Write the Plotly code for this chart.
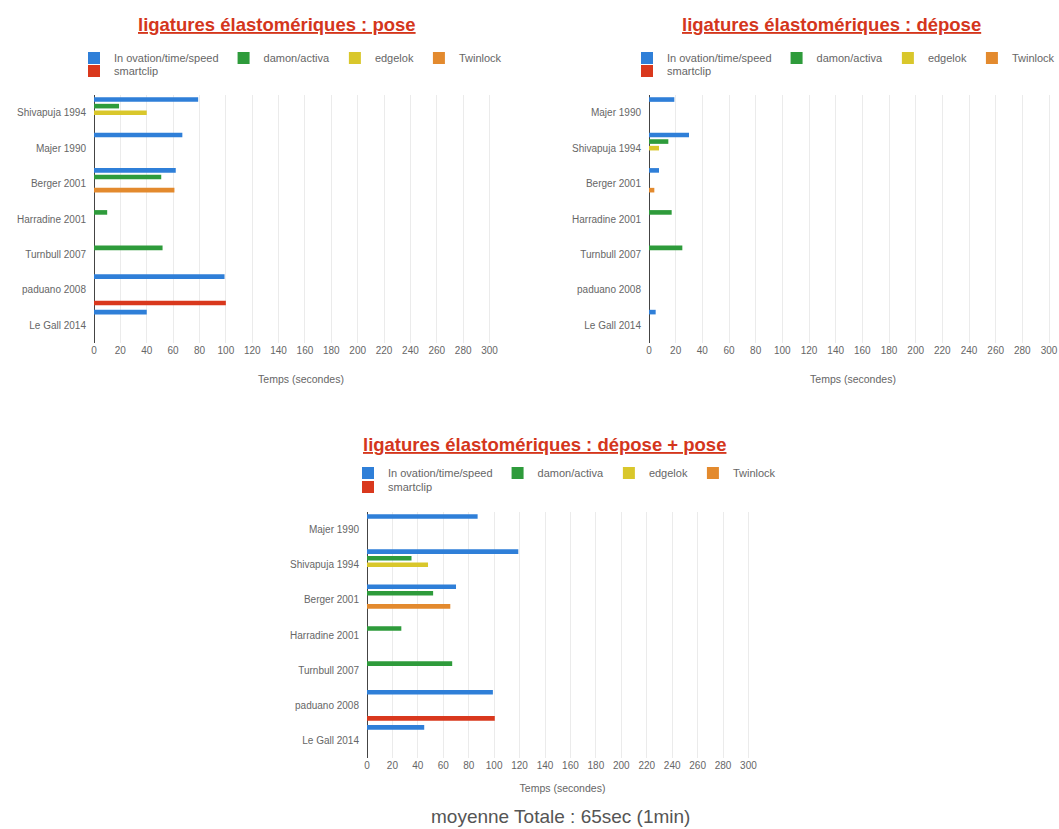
import plotly.graph_objects as go

W, H = 1059, 829

series_names = ["In ovation/time/speed", "damon/activa", "edgelok", "Twinlock", "smartclip"]
series_colors = ["#2f7fd8", "#2e9b3b", "#d9c72b", "#e38a2e", "#d9381d"]

# Chart 1 : pose
cats_pose = ["Shivapuja 1994", "Majer 1990", "Berger 2001", "Harradine 2001",
             "Turnbull 2007", "paduano 2008", "Le Gall 2014"]
pose_inov = [79, 67, 62, None, None, 99, 40]
pose_damon = [19, None, 51, 10, 52, None, None]
pose_edgelok = [40, None, None, None, None, None, None]
pose_twinlock = [None, None, 61, None, None, None, None]
pose_smartclip = [None, None, None, None, None, 100, None]

# Chart 2 : dépose
cats_depose = ["Majer 1990", "Shivapuja 1994", "Berger 2001", "Harradine 2001",
               "Turnbull 2007", "paduano 2008", "Le Gall 2014"]
depose_inov = [19, 30, 7.5, None, None, None, 5]
depose_damon = [None, 14.5, None, 17, 25, None, None]
depose_edgelok = [None, 7.5, None, None, None, None, None]
depose_twinlock = [None, None, 4, None, None, None, None]
depose_smartclip = [None, None, None, None, None, None, None]

# Chart 3 : dépose + pose
cats_total = ["Majer 1990", "Shivapuja 1994", "Berger 2001", "Harradine 2001",
              "Turnbull 2007", "paduano 2008", "Le Gall 2014"]
total_inov = [87, 119, 70, None, None, 99, 45]
total_damon = [None, 35, 52, 27, 67, None, None]
total_edgelok = [None, 48, None, None, None, None, None]
total_twinlock = [None, None, 65.5, None, None, None, None]
total_smartclip = [None, None, None, None, None, 100.5, None]

titles = ["ligatures élastomériques : pose",
          "ligatures élastomériques : dépose",
          "ligatures élastomériques : dépose + pose"]
x_ticks = list(range(0, 301, 20))
axis_title = "Temps (secondes)"
footer = "moyenne Totale : 65sec (1min)"

charts = [
    (cats_pose, [pose_inov, pose_damon, pose_edgelok, pose_twinlock, pose_smartclip]),
    (cats_depose, [depose_inov, depose_damon, depose_edgelok, depose_twinlock, depose_smartclip]),
    (cats_total, [total_inov, total_damon, total_edgelok, total_twinlock, total_smartclip]),
]

# layout geometry (pixels)
geo = [
    dict(x0=94, x1=508, y0=95, y1=343, xmax=314, tx=277, ty=25, lx=94, ly1=58, ly2=71, st=20),
    dict(x0=649, x1=1057, y0=95, y1=343, xmax=306, tx=831, ty=25, lx=647, ly1=58, ly2=71, st=20),
    dict(x0=367, x1=758, y0=512, y1=758, xmax=307.5, tx=544, ty=445, lx=368, ly1=473, ly2=487, st=14),
]

FONT = "Liberation Sans, Arial, sans-serif"
fig = go.Figure()
layout = dict(
    width=W, height=H,
    margin=dict(l=0, r=0, t=0, b=0, autoexpand=False),
    paper_bgcolor="white", plot_bgcolor="white",
    barmode="group", bargap=0.07, bargroupgap=0.3,
    font=dict(family=FONT, color="#555"),
    annotations=[],
)

for i, ((cats, vals), g) in enumerate(zip(charts, geo)):
    n = i + 1
    xa = "x" if n == 1 else f"x{n}"
    ya = "y" if n == 1 else f"y{n}"
    leg_a = "legend" if n == 1 else f"legend{2 * n - 1}"
    leg_b = f"legend{2 * n}"
    for k, (name, color, v) in enumerate(zip(series_names, series_colors, vals)):
        fig.add_trace(go.Bar(
            y=cats, x=v, name=name, orientation="h",
            marker=dict(color=color, line=dict(width=0)),
            xaxis=xa, yaxis=ya,
            legend=leg_a if k < 4 else leg_b,
        ))
    xkey = "xaxis" if n == 1 else f"xaxis{n}"
    ykey = "yaxis" if n == 1 else f"yaxis{n}"
    layout[xkey] = dict(
        domain=[g["x0"] / W, g["x1"] / W], anchor=ya,
        range=[0, g["xmax"]], tickvals=x_ticks,
        showgrid=True, gridcolor="#ebebeb", gridwidth=1,
        zeroline=True, zerolinecolor="#444", zerolinewidth=1,
        showline=False, ticks="",
        tickfont=dict(size=10, color="#666", family=FONT),
        title=dict(text=axis_title, font=dict(size=10.5, color="#666", family=FONT), standoff=g["st"]),
        fixedrange=True,
    )
    layout[ykey] = dict(
        domain=[1 - g["y1"] / H, 1 - g["y0"] / H], anchor=xa,
        type="category", autorange="reversed",
        showgrid=False, zeroline=False, showline=False, ticks="",
        ticklabelstandoff=7,
        tickfont=dict(size=10, color="#666", family=FONT),
        fixedrange=True,
    )
    leg_common = dict(orientation="h", xanchor="left", yanchor="middle",
                      font=dict(size=11, color="#666", family=FONT),
                      bgcolor="rgba(0,0,0,0)", itemwidth=30,
                      itemclick=False, itemdoubleclick=False)
    layout[leg_a] = dict(x=(g["lx"] - 20) / W, y=1 - g["ly1"] / H, **leg_common)
    layout[leg_b] = dict(x=(g["lx"] - 20) / W, y=1 - g["ly2"] / H, **leg_common)
    layout["annotations"].append(dict(
        text=f"<b><u>{titles[i]}</u></b>", xref="paper", yref="paper",
        x=g["tx"] / W, y=1 - g["ty"] / H, xanchor="center", yanchor="middle",
        showarrow=False, font=dict(size=18.5, color="#d4361c", family=FONT),
    ))

layout["annotations"].append(dict(
    text=footer, xref="paper", yref="paper",
    x=560 / W, y=1 - 816 / H, xanchor="center", yanchor="middle",
    showarrow=False, font=dict(size=19, color="#555", family=FONT),
))

fig.update_layout(**layout)
fig.write_html(
    "out.html",
    config={"displayModeBar": False},
    post_script="document.body.style.margin='0';document.body.style.overflow='hidden';",
)
